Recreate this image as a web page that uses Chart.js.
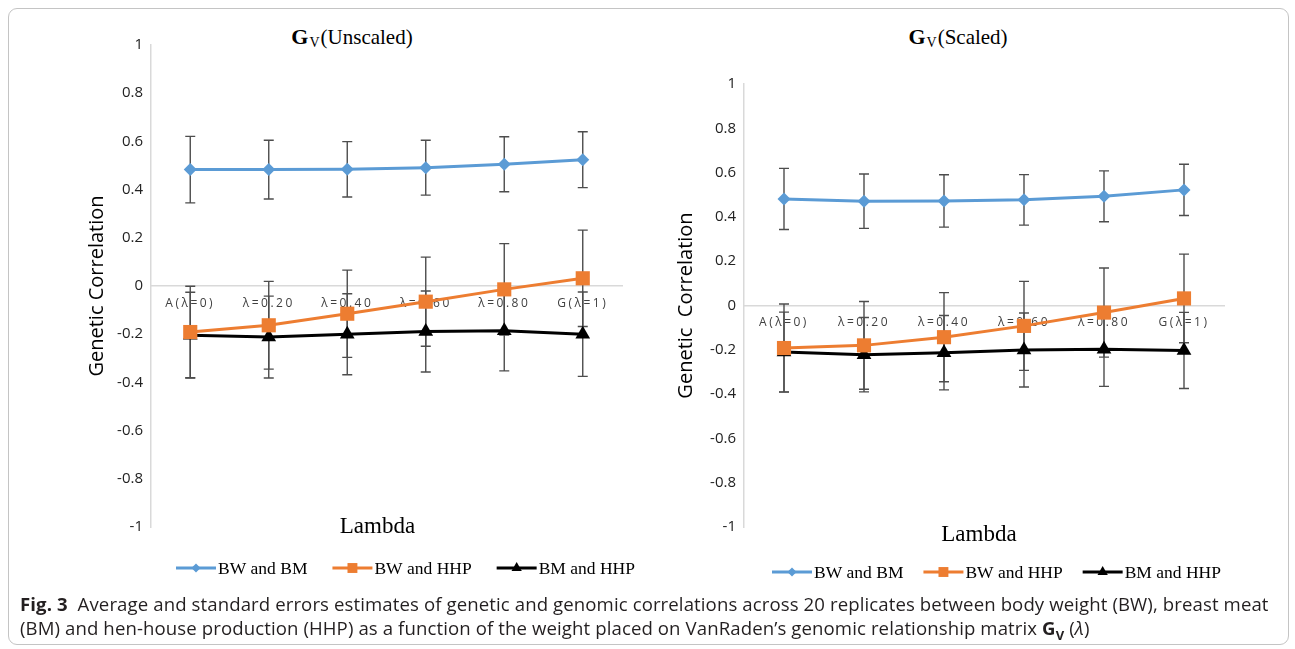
<!DOCTYPE html>
<html>
<head>
<meta charset="utf-8">
<script src="https://cdn.jsdelivr.net/npm/chart.js@4.4.0/dist/chart.umd.min.js"></script>
<style>
  body { margin: 0; background: #fff; width: 1295px; height: 649px; overflow: hidden; position: relative; }
  .frame { position: absolute; left: 8px; top: 8px; width: 1281px; height: 637px; border: 1px solid #c4c4c4; border-radius: 9px; box-sizing: border-box; }
  .box { position: absolute; top: 0; height: 600px; }
  .ttl { position: absolute; top: 24px; transform: translateX(-50%); font-family: "Liberation Serif", serif; font-size: 21px; white-space: nowrap; color: #000; }
  .ttl b { font-size: 22px; }
  .ttl .v { font-size: 14px; position: relative; top: 3px; margin: 0 1px; }
  .cap { position: absolute; left: 20px; top: 592px; font-family: "Open Sans", sans-serif; font-size: 18.6px; letter-spacing: 0.1px; line-height: 24px; color: #231f20; white-space: nowrap; }
  .cap sub { font-size: 13px; }
</style>
</head>
<body>
<div class="frame"></div>
<div class="ttl" style="left:352px"><b>G</b><span class="v">V</span>(Unscaled)</div>
<div class="ttl" style="left:958px"><b>G</b><span class="v">V</span>(Scaled)</div>
<div class="box" style="left:81px;width:569px"><canvas id="chart-unscaled"></canvas></div>
<div class="box" style="left:670px;width:570px"><canvas id="chart-scaled"></canvas></div>
<div class="cap"><b>Fig. 3</b>&nbsp; Average and standard errors estimates of genetic and genomic correlations across 20 replicates between body weight (BW), breast meat<br>(BM) and hen-house production (HHP) as a function of the weight placed on VanRaden’s genomic relationship matrix <b>G<sub>V</sub></b> (<i>λ</i>)</div>

<script>
// categories and series
var categories = ["A(λ=0)", "λ=0.20", "λ=0.40", "λ=0.60", "λ=0.80", "G(λ=1)"];
var seriesNames = ["BW and BM", "BW and HHP", "BM and HHP"];

// G_V unscaled: means and standard errors
var bwBmUnscaled = [0.483, 0.483, 0.484, 0.491, 0.505, 0.524];
var bwBmUnscaledSE = [0.138, 0.122, 0.115, 0.114, 0.114, 0.116];
var bwHhpUnscaled = [-0.191, -0.163, -0.115, -0.065, -0.014, 0.032];
var bwHhpUnscaledSE = [0.19, 0.182, 0.181, 0.185, 0.19, 0.2];
var bmHhpUnscaled = [-0.204, -0.212, -0.2, -0.189, -0.186, -0.2];
var bmHhpUnscaledSE = [0.178, 0.17, 0.168, 0.168, 0.166, 0.175];

// G_V scaled: means and standard errors
var bwBmScaled = [0.481, 0.471, 0.472, 0.477, 0.493, 0.522];
var bwBmScaledSE = [0.138, 0.123, 0.118, 0.114, 0.115, 0.116];
var bwHhpScaled = [-0.192, -0.18, -0.143, -0.092, -0.032, 0.032];
var bwHhpScaledSE = [0.199, 0.198, 0.201, 0.201, 0.201, 0.2];
var bmHhpScaled = [-0.21, -0.222, -0.213, -0.201, -0.197, -0.203];
var bmHhpScaledSE = [0.18, 0.168, 0.168, 0.167, 0.168, 0.172];

var yTicks = { min: -1, max: 1, step: 0.2 };

var colors = ["#5b9bd5", "#ed7d31", "#000000"];
var markers = ["rectRot", "rect", "triangle"];
var markerSize = [6.5, 10, 8.5];

// error bars; x labels get letter spacing, everything drawn after is reset
var errorBars = {
    id: 'errorBars',
    beforeDraw: function (chart) {
        chart.ctx.letterSpacing = '2.5px';
    },
    beforeDatasetsDraw: function (chart) {
        var ctx = chart.ctx;
        ctx.letterSpacing = '0px';
        var xs = chart.scales.x, ys = chart.scales.y;
        ctx.save();
        ctx.strokeStyle = '#4d4d4d';
        ctx.lineWidth = 1.4;
        chart.data.datasets.forEach(function (ds) {
            ds.data.forEach(function (v, j) {
                var se = ds.errors[j];
                var px = xs.getPixelForValue(j);
                var top = ys.getPixelForValue(v + se);
                var bot = ys.getPixelForValue(v - se);
                ctx.beginPath();
                ctx.moveTo(px, top); ctx.lineTo(px, bot);
                ctx.moveTo(px - 5, top); ctx.lineTo(px + 5, top);
                ctx.moveTo(px - 5, bot); ctx.lineTo(px + 5, bot);
                ctx.stroke();
            });
        });
        ctx.restore();
    }
};

// legend with line + marker, and the "Lambda" axis title
var lineLegend = {
    id: 'lineLegend',
    afterDraw: function (chart, args, opts) {
        var ctx = chart.ctx;
        var area = chart.chartArea;
        ctx.save();
        ctx.letterSpacing = '0px';
        ctx.fillStyle = '#000';
        ctx.textAlign = 'center';
        ctx.textBaseline = 'middle';
        ctx.font = '23px "Liberation Serif"';
        ctx.fillText('Lambda', (area.left + area.right) / 2 + opts.lambdaDx, area.bottom + opts.lambdaDy);

        ctx.font = '17.5px "Liberation Serif"';
        ctx.textAlign = 'left';
        var x = opts.x, y = opts.y;
        chart.data.datasets.forEach(function (ds) {
            ctx.strokeStyle = ds.borderColor;
            ctx.lineWidth = 3;
            ctx.beginPath();
            ctx.moveTo(x, y); ctx.lineTo(x + 40, y);
            ctx.stroke();
            ctx.fillStyle = ds.backgroundColor;
            Chart.helpers.drawPoint(ctx, { pointStyle: ds.pointStyle, radius: ds.pointRadius * 0.7, rotation: 0, borderWidth: 0 }, x + 20, y);
            ctx.fillStyle = '#000';
            ctx.fillText(ds.label, x + 42, y + 1);
            x += 42 + ctx.measureText(ds.label).width + opts.gap;
        });
        ctx.restore();
    }
};

function makeChart(id, values, errors, layout) {
    var datasets = seriesNames.map(function (name, i) {
        return {
            label: name,
            data: values[i],
            errors: errors[i],
            borderColor: colors[i],
            backgroundColor: colors[i],
            borderWidth: 3,
            pointStyle: markers[i],
            pointRadius: markerSize[i],
            pointHoverRadius: markerSize[i],
            pointBorderWidth: 0,
            tension: 0,
            fill: false
        };
    });

    return new Chart(id, {
        type: 'line',
        data: { labels: categories, datasets: datasets },
        plugins: [errorBars, lineLegend],
        options: {
            responsive: true,
            maintainAspectRatio: false,
            animation: false,
            layout: { padding: layout.padding },
            plugins: {
                legend: { display: false },
                tooltip: { enabled: false },
                lineLegend: layout.legend
            },
            scales: {
                x: {
                    type: 'category',
                    offset: true,
                    position: { y: 0 },
                    grid: { display: true, drawOnChartArea: false, drawTicks: false },
                    border: { display: true, color: '#d9d9d9', width: 1.5 },
                    ticks: {
                        padding: 10,
                        color: '#404040',
                        font: { family: 'Open Sans', size: 12 },
                        maxRotation: 0,
                        autoSkip: false
                    }
                },
                y: {
                    min: yTicks.min,
                    max: yTicks.max,
                    afterFit: function (scale) { scale.width = layout.yWidth; },
                    grid: { display: true, drawOnChartArea: false, drawTicks: false, z: 1 },
                    border: { display: true, color: '#d9d9d9', width: 1.5, z: 1 },
                    ticks: {
                        z: 1,
                        stepSize: yTicks.step,
                        padding: 8,
                        color: '#222',
                        font: { family: 'Open Sans', size: 15 },
                        callback: function (v) { return Math.round(v * 10) / 10; }
                    },
                    title: {
                        display: true,
                        text: layout.yTitle,
                        color: '#000',
                        padding: { top: 4, bottom: 0 },
                        font: { family: 'Open Sans', size: 20, weight: 'normal' }
                    }
                }
            }
        }
    });
}

makeChart('chart-unscaled',
    [bwBmUnscaled, bwHhpUnscaled, bmHhpUnscaled],
    [bwBmUnscaledSE, bwHhpUnscaledSE, bmHhpUnscaledSE],
    {
        padding: { left: 0, right: 28, top: 45, bottom: 73 },
        yWidth: 70,
        yTitle: 'Genetic Correlation',
        legend: { x: 95, y: 568, gap: 25, lambdaDx: -9, lambdaDy: 0 }
    });

makeChart('chart-scaled',
    [bwBmScaled, bwHhpScaled, bmHhpScaled],
    [bwBmScaledSE, bwHhpScaledSE, bmHhpScaledSE],
    {
        padding: { left: 0, right: 16, top: 84, bottom: 73 },
        yWidth: 74,
        yTitle: 'Genetic  Correlation',
        legend: { x: 102, y: 572, gap: 20, lambdaDx: -5, lambdaDy: 8 }
    });
</script>
</body>
</html>
